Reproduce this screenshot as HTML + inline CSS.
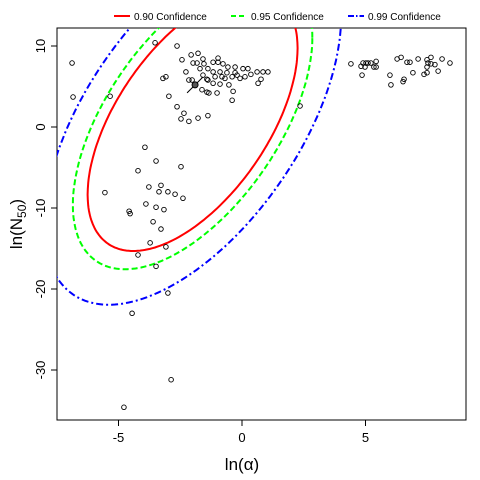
<!DOCTYPE html>
<html><head><meta charset="utf-8"><style>
body{margin:0;background:#fff;width:480px;height:480px;overflow:hidden}
svg{display:block;font-family:"Liberation Sans",Arial,sans-serif}
</style></head><body>
<svg id="chart" width="480" height="480">
<defs><clipPath id="clip"><rect x="57" y="28" width="409" height="392"/></clipPath></defs>
<g>
<line x1="114" y1="16" x2="130" y2="16" stroke="#f00" stroke-width="2"/>
<text x="134" y="20" font-size="10">0.90 Confidence</text>
<line x1="231" y1="16" x2="247" y2="16" stroke="#0f0" stroke-width="2" stroke-dasharray="5,3"/>
<text x="251" y="20" font-size="10">0.95 Confidence</text>
<line x1="348" y1="16" x2="364" y2="16" stroke="#00f" stroke-width="2" stroke-dasharray="6,2,1.5,2"/>
<text x="368" y="20" font-size="10">0.99 Confidence</text>
</g>
<rect x="57" y="28" width="409" height="392" fill="none" stroke="#000"/>
<g id="axes"></g>
<g id="ellipses" clip-path="url(#clip)"></g>
<g id="points" clip-path="url(#clip)"></g>
<text x="242" y="470" font-size="17" text-anchor="middle">ln(α)</text>
<text transform="translate(22,224) rotate(-90)" font-size="17" text-anchor="middle">ln(N<tspan font-size="12" dy="4">50</tspan><tspan dy="-4">)</tspan></text>
</svg>
<script>
const xTicks=[-5,0,5];
const yTicks=[10,0,-10,-20,-30];
const levels=[0.90,0.95,0.99];
const chiK=[2.146,2.448,3.035];
const levelColors=["#f00","#0f0","#00f"];
const levelDash=["","6,3","7,3,2,3"];
const ellMean=[-2.0,0.7];
const ellSd=[1.98,7.46];
const ellRho=0.565;
const xs=[-2.63,-2.06,-1.78,-2.43,-1.98,-1.82,-1.58,-1.54,-1.17,-0.97,-0.97,-0.77,-0.57,-0.28,0.04,0.24,0.61,0.85,1.05,-2.27,-1.70,-1.38,-1.17,-0.89,-0.61,-0.28,0.36,-1.58,-1.09,-0.81,-0.69,-0.40,-0.20,0.12,-0.08,0.77,-1.42,-1.38,-2.02,-3.20,-3.08,-1.17,-0.89,-0.53,0.65,-2.15,-1.62,-1.34,-1.42,-1.01,-0.36,-2.96,-0.40,-2.63,-2.35,-2.47,-2.15,-1.78,-1.38,-3.52,-6.88,-6.84,-5.34,2.35,
-3.93,-3.48,-4.21,-2.47,-5.55,-3.77,-3.28,-3.36,-3.00,-2.71,-2.39,-4.57,-4.53,-3.89,-3.48,-3.16,-3.60,-3.28,-3.72,-3.08,-4.21,-3.48,-4.45,-3.00,-2.87,-4.78,
4.41,4.82,4.90,5.02,5.10,5.22,5.43,4.98,5.34,5.43,4.86,5.99,6.03,6.28,6.44,6.68,6.80,7.13,7.49,7.65,7.53,7.65,7.81,8.10,8.42,7.49,6.92,7.49,7.37,7.94,6.56,6.52];
const ys=[10.0,8.9,9.1,8.3,7.9,7.9,8.4,7.8,8.0,8.5,8.0,7.8,7.4,7.4,7.2,7.2,6.8,6.8,6.8,6.8,7.2,7.2,6.8,6.8,6.7,6.7,6.5,6.4,6.2,6.2,6.0,6.2,6.4,6.2,6.0,5.9,5.9,5.8,5.8,6.0,6.2,5.4,5.3,5.2,5.4,5.8,4.6,4.2,4.3,4.2,4.4,3.8,3.3,2.5,1.7,1.0,0.7,1.1,1.4,10.4,7.9,3.7,3.8,2.6,
-2.5,-4.2,-5.4,-4.9,-8.1,-7.4,-7.2,-8.0,-8.0,-8.3,-8.8,-10.4,-10.7,-9.5,-9.9,-10.2,-11.7,-12.6,-14.3,-14.8,-15.8,-17.2,-23.0,-20.5,-31.2,-34.6,
7.8,7.5,7.9,7.9,7.9,7.9,8.1,7.4,7.4,7.4,6.4,6.4,5.2,8.4,8.6,8.0,8.0,8.4,8.3,8.6,7.9,7.8,7.7,8.4,7.9,7.4,6.7,6.7,6.5,6.9,5.9,5.6];
const centroid=[-1.9,5.2];

const X=v=>242+v*24.7;
const Y=v=>127-v*8.1;
const NS="http://www.w3.org/2000/svg";
function mk(tag,attrs,parent){const e=document.createElementNS(NS,tag);for(const k in attrs)e.setAttribute(k,attrs[k]);parent.appendChild(e);return e;}
const axes=document.getElementById('axes');
xTicks.forEach(t=>{
  const l=mk('line',{x1:X(t),x2:X(t),y1:420,y2:426,stroke:'#000'},axes);
  
  
  const tx=mk('text',{x:X(t),y:442,'font-size':13,'text-anchor':'middle'},axes);
  tx.textContent=t;
  
  
});
yTicks.forEach(t=>{
  const l=mk('line',{x1:51,x2:57,y1:Y(t),y2:Y(t),stroke:'#000'},axes);
  
  
  const tx=mk('text',{transform:`translate(45,${Y(t)}) rotate(-90)`,'font-size':13,'text-anchor':'middle'},axes);
  tx.textContent=t;
  
  
});
const eg=document.getElementById('ellipses');
levels.forEach((lv,i)=>{
  const k=chiK[i];let d='';
  for(let j=0;j<=240;j++){
    const th=j/240*2*Math.PI;
    const u=Math.cos(th),w=Math.sin(th);
    const ex=ellMean[0]+k*ellSd[0]*u;
    const ey=ellMean[1]+k*ellSd[1]*(ellRho*u+Math.sqrt(1-ellRho*ellRho)*w);
    d+=(j?'L':'M')+X(ex).toFixed(1)+','+Y(ey).toFixed(1);
  }
  const p=mk('path',{d:d,fill:'none',stroke:levelColors[i],'stroke-width':2,'stroke-dasharray':levelDash[i]},eg);
  
  
});
const pg=document.getElementById('points');
xs.forEach((x,i)=>{
  const c=mk('circle',{cx:X(x),cy:Y(ys[i]),r:2.3,fill:'none',stroke:'#000','stroke-width':0.9},pg);
  
  
});
const cl=mk('line',{x1:X(centroid[0])-8,y1:Y(centroid[1])+8,x2:X(centroid[0])+8,y2:Y(centroid[1])-8,stroke:'#000'},pg);


const cc=mk('circle',{cx:X(centroid[0]),cy:Y(centroid[1]),r:3,fill:'#555',stroke:'#000'},pg);


</script>
</body></html>
